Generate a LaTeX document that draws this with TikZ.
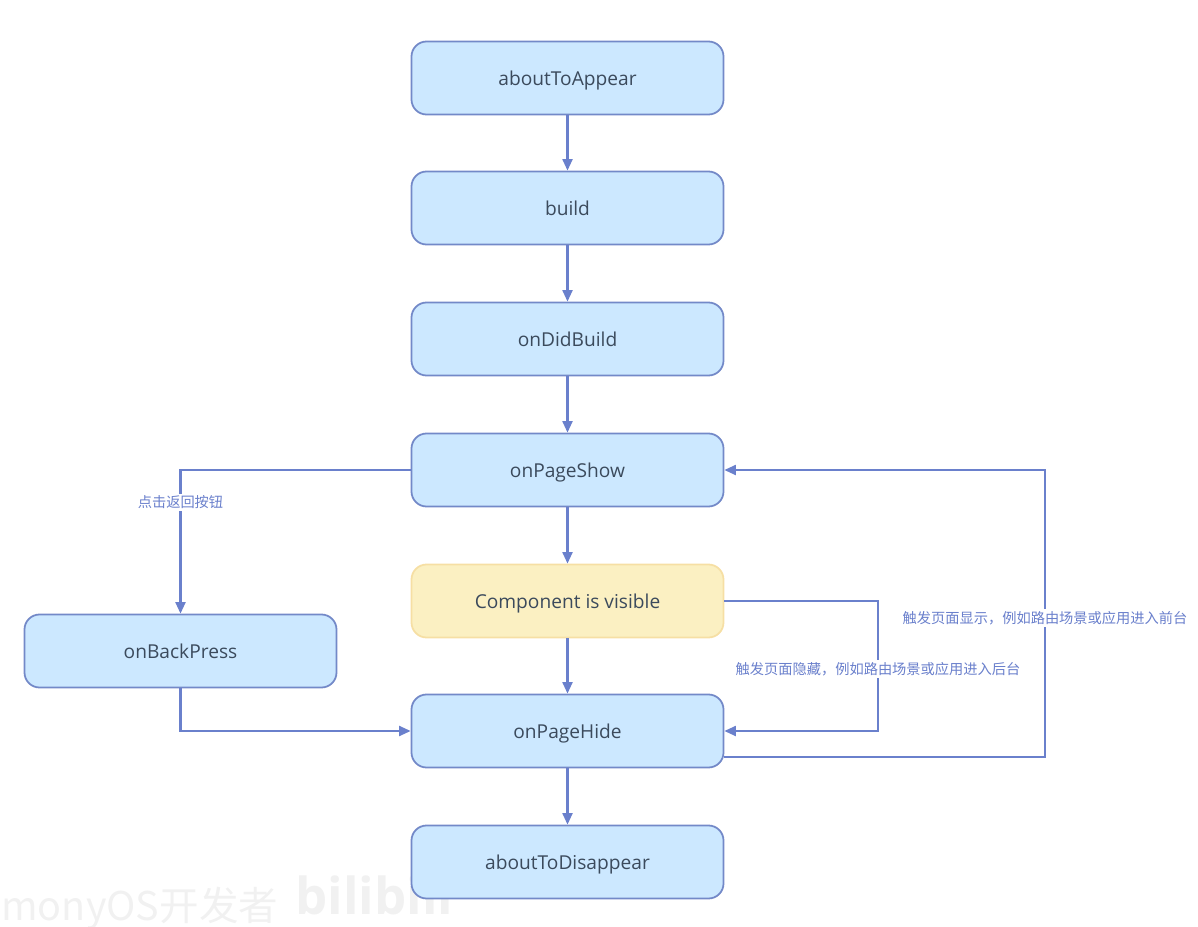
\documentclass[tikz,border=0pt]{standalone}
\usepackage{fontspec}
\setmainfont{Open Sans}
\newfontfamily\cjkfont{Noto Sans CJK SC}
\usetikzlibrary{arrows.meta}

\definecolor{linecolor}{HTML}{6A80CC}
\definecolor{boxfill}{HTML}{CCE8FF}
\definecolor{boxline}{HTML}{7389C8}
\definecolor{visfill}{HTML}{FBF0C2}
\definecolor{visline}{HTML}{F6DFA4}
\definecolor{boxtext}{HTML}{3B4A5C}
\definecolor{marktext}{HTML}{F1F1F1}

\tikzset{
	lifebox/.style={draw=boxline, fill=boxfill, line width=1pt, rounded corners=0.3cm,
		minimum width=6.24cm, minimum height=1.46cm, text=boxtext, text height=0.33cm, text depth=0.03cm,
		font=\fontsize{10.9}{13}\selectfont},
	visbox/.style={lifebox, draw=visline, fill=visfill},
	flow/.style={-{Triangle[length=0.23cm, width=0.2cm]}, draw=linecolor, line width=1.15pt},
	flowlabel/.style={fill=white, inner sep=1pt, text=linecolor, font=\cjkfont\fontsize{8.1}{10}\selectfont}
}

\begin{document}
\begin{tikzpicture}
	\useasboundingbox (0, 0) rectangle (23.96, 18.52);

	% watermark
	\node[anchor=west, inner sep=0pt, text=marktext, font=\cjkfont\fontsize{22.5}{26}\selectfont] (markname) at (0.02, 0.36) {monyOS开发者};
	\node[anchor=west, inner sep=0pt, text=marktext, font=\bfseries\fontsize{29}{32}\selectfont] (marklogo) at (5.9, 0.62) {bilibili};

	% main column
	\node[lifebox] (appear) at (11.35, 16.96) {aboutToAppear};
	\node[lifebox] (build) at (11.35, 14.36) {build};
	\node[lifebox] (didbuild) at (11.35, 11.74) {onDidBuild};
	\node[lifebox] (show) at (11.35, 9.12) {onPageShow};
	\node[visbox] (visible) at (11.35, 6.50) {Component is visible};
	\node[lifebox] (hide) at (11.35, 3.90) {onPageHide};
	\node[lifebox] (disappear) at (11.35, 1.28) {aboutToDisappear};
	\node[lifebox] (back) at (3.61, 5.50) {onBackPress};

	\coordinate (hideturn) at (17.56, 5);
	\coordinate (showturn) at (20.90, 5);
	\coordinate (hideout) at ([yshift=-0.52cm]hide.east);

	\draw[flow] (appear) -- (build);
	\draw[flow] (build) -- (didbuild);
	\draw[flow] (didbuild) -- (show);
	\draw[flow] (show) -- (visible);
	\draw[flow] (visible) -- (hide);
	\draw[flow] (hide) -- (disappear);

	\draw[flow] (show.west) -| (back.north);
	\draw[flow] (back.south) |- (hide.west);
	\draw[flow] (visible.east) -| (hideturn) |- (hide.east);
	\draw[flow] (hideout) -| (showturn) |- (show.east);

	\node[flowlabel] (backlabel) at (3.61, 8.47) {点击返回按钮};
	\node[flowlabel] (hidelabel) at (17.56, 5.14) {触发页面隐藏，例如路由场景或应用进入后台};
	\node[flowlabel] (showlabel) at (20.90, 6.16) {触发页面显示，例如路由场景或应用进入前台};
\end{tikzpicture}
\end{document}
